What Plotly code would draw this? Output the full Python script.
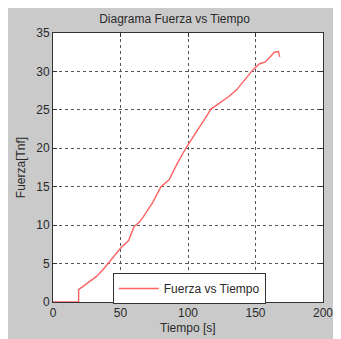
import plotly.graph_objects as go

tiempo = [0, 19, 19, 25, 32, 37, 41, 46, 50, 56, 60, 64, 67, 74, 80, 86, 92, 99,
          106, 112, 117, 124, 130, 136, 142, 148, 153, 157, 161, 164, 167, 168]
fuerza = [0, 0, 1.6, 2.4, 3.3, 4.2, 5.1, 6.1, 7.0, 8.0, 9.8, 10.4, 11.1, 13.0, 15.0,
          15.9, 18.0, 20.2, 22.0, 23.7, 25.1, 25.9, 26.7, 27.6, 28.9, 30.2, 31.0,
          31.2, 31.9, 32.5, 32.6, 31.9]

x_ticks = [0, 50, 100, 150, 200]
y_ticks = [0, 5, 10, 15, 20, 25, 30, 35]

# page body adds an 8px offset; figure coordinates = screen - 8
W, H = 333, 331
ml, mr, mt, mb = 45, 8, 25, 37
pw, ph = W - ml - mr, H - mt - mb

def px(xpix):
    return (xpix - ml) / pw

def py(ypix):
    return (H - mb - ypix) / ph

font = dict(family="Liberation Sans, Arial, sans-serif", size=12, color="#2a2a2a")

fig = go.Figure()
fig.add_trace(go.Scatter(x=tiempo, y=fuerza, mode="lines", name="Fuerza vs Tiempo",
                         line=dict(color="#ff6262", width=1.4)))

axis_common = dict(showline=True, linecolor="#333333", linewidth=1, mirror="ticks",
                   ticks="inside", ticklen=4, tickcolor="#333333",
                   showgrid=True, gridcolor="#555555", gridwidth=1, griddash="dot",
                   zeroline=False, tickfont=font, ticklabeloverflow="allow")

fig.update_layout(
    width=W, height=H,
    margin=dict(l=ml, r=mr, t=mt, b=mb),
    paper_bgcolor="#cacaca",
    plot_bgcolor="white",
    font=font,
    title=dict(text="Diagrama Fuerza vs Tiempo", x=px(185), xanchor="center",
               y=1 - 11 / H, yanchor="middle", font=font),
    xaxis=dict(range=[0, 200], tickvals=x_ticks, **axis_common),
    yaxis=dict(range=[0, 35], tickvals=y_ticks, **axis_common),
    showlegend=True,
    legend=dict(x=px(107), y=py(265), xanchor="left", yanchor="top",
                bgcolor="white", bordercolor="#333333", borderwidth=1,
                font=font, itemwidth=40, tracegroupgap=0),
    annotations=[
        dict(text="Tiempo [s]", xref="paper", yref="paper", x=px(185), y=py(320),
             xanchor="center", yanchor="middle", showarrow=False, font=font),
        dict(text="Fuerza[Tnf]", xref="paper", yref="paper", x=px(12), y=py(160),
             xanchor="center", yanchor="middle", showarrow=False, font=font, textangle=-90),
    ],
)

fig.write_html("out.html")
